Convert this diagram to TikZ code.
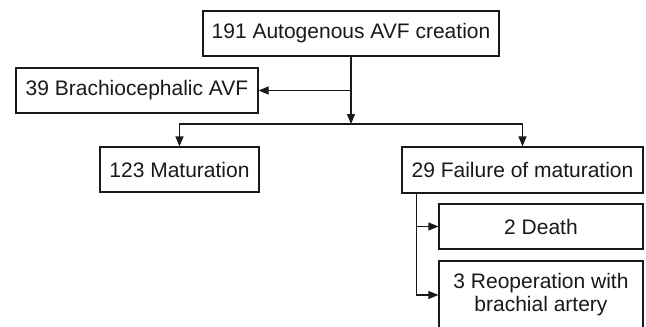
\documentclass[tikz,border=0pt]{standalone}
\usepackage{fontspec}
\setmainfont{Liberation Sans}
\usetikzlibrary{arrows.meta}
\tikzset{>={Triangle[length=10pt,width=8pt]}}
\tikzset{box/.style={draw, fill=white, inner sep=0pt, align=center, font=\fontsize{21}{23}\selectfont}}

\begin{document}
\begin{tikzpicture}[x=1pt, y=-1pt, line width=1.2pt, color={black!90}]
    \useasboundingbox (0,0) rectangle (646,327);
    \clip (0,0) rectangle (646,327);
    \node[box, minimum width=296pt, minimum height=45pt] (A) at (351,33.5) {191 Autogenous AVF creation};
    \node[box, minimum width=242pt, minimum height=45pt] (B) at (137,90.5) {39 Brachiocephalic AVF};
    \node[box, minimum width=159pt, minimum height=45pt] (C) at (179.5,169.5) {123 Maturation};
    \node[box, minimum width=241pt, minimum height=46pt] (D) at (522.5,170) {29 Failure of maturation};
    \node[box, minimum width=204pt, minimum height=45pt] (E) at (541,226.5) {2 Death};
    \node[box, minimum width=204pt, minimum height=68pt] (F) at (541,295) {3 Reoperation with\\brachial artery};
    \coordinate (J) at (A.south |- B.east);
    \coordinate (K) at (351,124);
    \coordinate (L) at ([xshift=15pt]D.south west);
    \draw (A.south) -- (J);
    \draw[->] (J) -- (B.east);
    \draw[->] (J) -- (K);
    \draw[->] (K) -| (C.north);
    \draw[->] (K) -| (D.north);
    \draw[->] (L) |- (E.west);
    \draw[->] (L) |- (F.west);
\end{tikzpicture}
\end{document}
